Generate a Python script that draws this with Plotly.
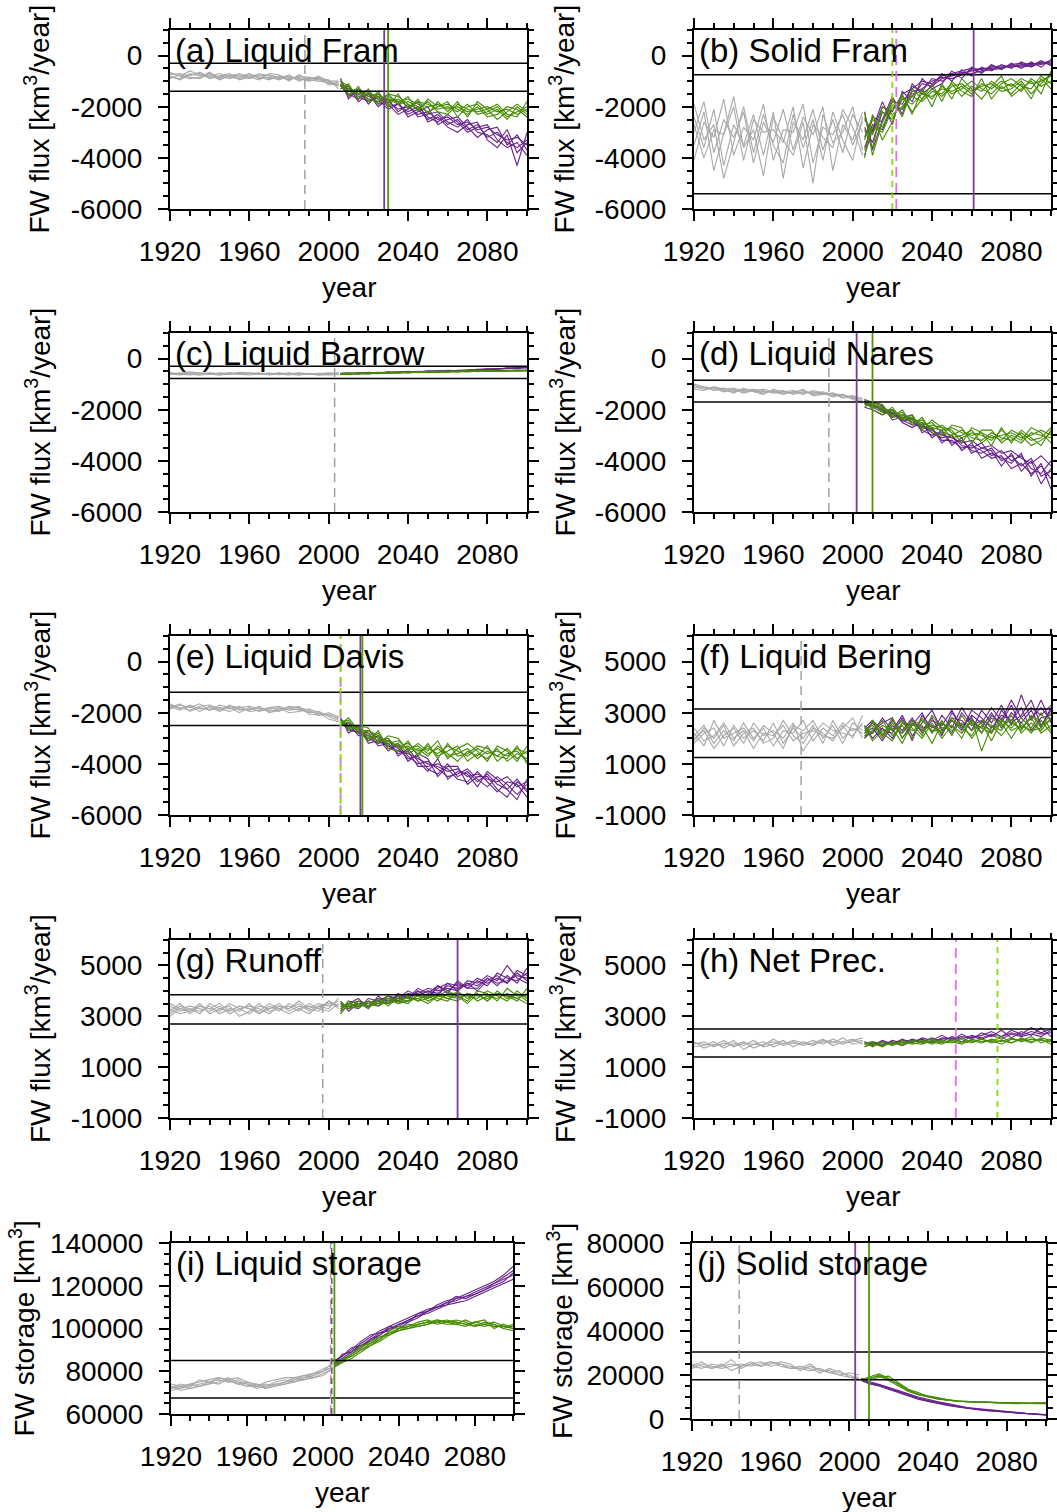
import plotly.graph_objects as go

W, H = 1057, 1512

# ---------------- data ----------------
HIST_YEARS = [1920, 1925, 1930, 1935, 1940, 1945, 1950, 1955, 1960, 1965,
              1970, 1975, 1980, 1985, 1990, 1995, 2000, 2005]
SCEN_YEARS = [2006, 2010, 2015, 2020, 2025, 2030, 2035, 2040, 2045, 2050,
              2055, 2060, 2065, 2070, 2075, 2080, 2085, 2090, 2095, 2100]

YEAR_TICKS = [1920, 1960, 2000, 2040, 2080]
FLUX_TICKS_NEG = [-6000, -4000, -2000, 0]
FLUX_TICKS_POS = [-1000, 1000, 3000, 5000]
LIQ_STORE_TICKS = [60000, 80000, 100000, 120000, 140000]
SOL_STORE_TICKS = [0, 20000, 40000, 60000, 80000]

# (a) Liquid Fram
A_HIST = [
    [-750, -700, -800, -650, -850, -800, -900, -750, -800, -850, -950, -800, -900, -850, -950, -1000, -1050, -1150],
    [-850, -900, -700, -800, -750, -950, -800, -850, -700, -900, -850, -950, -800, -900, -1000, -900, -1100, -1050],
    [-700, -800, -600, -750, -800, -700, -850, -900, -750, -800, -750, -850, -950, -800, -850, -950, -1000, -1200],
    [-900, -750, -850, -900, -700, -850, -750, -800, -900, -750, -900, -800, -850, -950, -900, -850, -1150, -1100],
    [-800, -950, -750, -700, -900, -800, -700, -950, -850, -700, -800, -900, -750, -1000, -850, -900, -950, -1300],
    [-650, -800, -900, -850, -650, -900, -800, -700, -850, -950, -700, -750, -1000, -750, -950, -800, -1000, -1000],
]
A_RCP85 = [
    [-1100, -1500, -1700, -1450, -1900, -1800, -2100, -2000, -2300, -2200, -2500, -2400, -2700, -2600, -2900, -2800, -3100, -3300, -3200, -3500],
    [-1200, -1300, -1600, -1800, -1600, -2000, -1900, -2300, -2100, -2500, -2300, -2700, -2500, -2900, -2700, -3200, -3000, -3400, -3600, -3300],
    [-1000, -1400, -1500, -1700, -1800, -1700, -2200, -1900, -2400, -2300, -2200, -2600, -2800, -2500, -3000, -3100, -3400, -2900, -3800, -3400],
    [-1150, -1600, -1400, -1600, -1700, -2100, -1900, -2200, -2000, -2400, -2600, -2300, -2600, -3000, -2800, -2700, -3300, -3600, -3400, -3900],
    [-1300, -1200, -1800, -1500, -2000, -1700, -1800, -2400, -2200, -2000, -2700, -2500, -2400, -2800, -3200, -2900, -2800, -3500, -3100, -3700],
    [-900, -1700, -1300, -1900, -1500, -1900, -2300, -2100, -1800, -2600, -2400, -2800, -3000, -2700, -2600, -3300, -3600, -3100, -4300, -3000],
]
A_RCP45 = [
    [-1100, -1300, -1500, -1400, -1700, -1600, -1800, -1700, -1900, -2000, -1900, -2100, -2000, -2200, -2100, -2000, -2200, -2100, -2300, -2100],
    [-1200, -1400, -1300, -1600, -1500, -1800, -1700, -2000, -1800, -1900, -2100, -2000, -2200, -1900, -2300, -2200, -2000, -2400, -2200, -2000],
    [-1000, -1200, -1600, -1500, -1600, -1700, -1900, -1800, -2000, -2200, -2000, -1900, -2100, -2300, -2000, -2400, -2300, -2000, -2100, -2400],
    [-1150, -1500, -1400, -1700, -1800, -1500, -1600, -1900, -2100, -1800, -2200, -2300, -1900, -2100, -2200, -2100, -2500, -2200, -1900, -2200],
    [-1300, -1100, -1700, -1300, -1900, -1500, -1900, -1600, -2200, -1700, -2000, -1800, -2400, -2000, -1900, -2300, -2100, -2500, -2000, -2300],
    [-900, -1600, -1200, -1800, -1400, -2000, -1500, -2100, -1700, -2300, -1800, -2200, -1800, -2400, -1800, -2100, -1900, -2300, -2400, -1800],
]

# (b) Solid Fram
B_HIST = [
    [-3000, -1800, -3800, -2500, -3200, -2200, -4200, -2600, -3400, -2100, -3700, -2400, -3100, -2000, -4500, -2700, -3300, -2200],
    [-2400, -3600, -2100, -4300, -2700, -3500, -2300, -3900, -2200, -4800, -2600, -3300, -2100, -3700, -2500, -3800, -2300, -3000],
    [-4100, -2600, -3200, -1700, -3900, -2800, -3300, -1900, -4100, -2900, -3000, -1900, -4200, -2800, -3100, -2300, -3500, -2600],
    [-2700, -4000, -2900, -3100, -2000, -4100, -2500, -3000, -2900, -3400, -2000, -4400, -2700, -3200, -3600, -2100, -2800, -3900],
    [-3500, -2200, -4500, -3000, -1600, -3600, -2900, -4700, -2400, -3300, -3900, -2600, -5000, -2300, -3400, -3000, -2000, -3700],
    [-1900, -3300, -2700, -4800, -3400, -2000, -3800, -2300, -3500, -4200, -2300, -3600, -2500, -4100, -2200, -3300, -4100, -2400],
]
B_RCP85 = [
    [-2500, -3000, -2000, -2200, -1500, -1300, -1000, -1100, -800, -700, -600, -500, -550, -450, -400, -450, -350, -300, -350, -250],
    [-3200, -2400, -2600, -1800, -1900, -1200, -1400, -900, -1000, -750, -700, -600, -500, -500, -450, -400, -400, -350, -300, -300],
    [-2800, -3400, -2200, -2500, -1700, -1600, -1100, -1200, -900, -800, -650, -700, -600, -550, -500, -400, -450, -400, -300, -200],
    [-3600, -2700, -2900, -2000, -2100, -1400, -1300, -1000, -850, -900, -750, -550, -650, -400, -500, -350, -300, -450, -250, -350],
    [-2200, -3700, -2500, -1600, -2300, -1100, -1500, -1200, -700, -1000, -550, -800, -450, -600, -350, -500, -250, -400, -200, -400],
    [-3900, -2900, -1800, -2700, -1400, -1800, -900, -1300, -1100, -600, -900, -450, -700, -350, -550, -300, -500, -250, -450, -150],
]
B_RCP45 = [
    [-2400, -3100, -2200, -2500, -1700, -1900, -1500, -1600, -1300, -1400, -1200, -1500, -1100, -1300, -1000, -1200, -900, -1100, -1000, -800],
    [-3300, -2500, -2800, -1900, -2100, -1600, -1800, -1400, -1500, -1100, -1600, -1200, -1400, -1000, -1300, -1100, -1400, -900, -1200, -1000],
    [-2900, -3600, -2000, -2300, -2000, -1500, -1400, -1700, -1200, -1500, -1300, -1000, -1300, -1500, -1100, -900, -1200, -1300, -800, -1100],
    [-3700, -2800, -3000, -2100, -1600, -2200, -1700, -1300, -1600, -1200, -1100, -1400, -1200, -1100, -1400, -1300, -1000, -1500, -1100, -700],
    [-2200, -3900, -2600, -1700, -2400, -1300, -1700, -1100, -1800, -1000, -1400, -1600, -900, -1700, -1200, -1500, -1100, -1700, -900, -1300],
    [-4000, -2300, -3300, -2600, -1500, -2300, -1300, -2000, -1100, -1700, -900, -1300, -1700, -1200, -800, -1600, -1300, -1000, -1500, -600],
]

# (c) Liquid Barrow
C_HIST = [
    [-550, -600, -520, -580, -620, -560, -600, -540, -590, -620, -570, -600, -640, -580, -620, -600, -560, -600],
    [-620, -560, -600, -650, -570, -610, -550, -620, -580, -560, -640, -590, -560, -620, -590, -650, -610, -580],
    [-600, -640, -580, -560, -600, -650, -580, -600, -640, -590, -610, -560, -600, -650, -580, -620, -640, -620],
    [-580, -620, -640, -600, -560, -600, -620, -580, -560, -600, -580, -630, -590, -560, -610, -580, -600, -560],
]
C_RCP85 = [
    [-600, -620, -560, -580, -540, -560, -520, -550, -500, -520, -480, -500, -460, -470, -430, -440, -400, -380, -360, -340],
    [-580, -560, -600, -540, -570, -520, -540, -500, -530, -480, -500, -460, -480, -440, -420, -400, -420, -360, -380, -330],
    [-620, -590, -580, -600, -550, -580, -530, -520, -540, -510, -490, -520, -470, -450, -460, -410, -390, -400, -350, -370],
    [-610, -580, -570, -560, -580, -540, -560, -530, -510, -500, -510, -470, -490, -460, -440, -420, -430, -380, -400, -350],
]
C_RCP45 = [
    [-600, -610, -580, -590, -560, -570, -540, -560, -530, -540, -510, -530, -500, -520, -490, -500, -480, -490, -470, -480],
    [-590, -570, -600, -560, -580, -550, -570, -520, -550, -510, -540, -500, -520, -480, -510, -470, -500, -460, -490, -450],
    [-620, -600, -560, -580, -550, -560, -530, -550, -520, -530, -500, -510, -490, -500, -470, -490, -460, -470, -450, -460],
    [-580, -600, -570, -570, -590, -540, -550, -540, -510, -550, -520, -490, -510, -470, -500, -480, -470, -500, -460, -470],
]

# (d) Liquid Nares
D_HIST = [
    [-1050, -1150, -1200, -1150, -1250, -1200, -1300, -1250, -1350, -1300, -1250, -1350, -1300, -1400, -1350, -1450, -1500, -1550],
    [-1150, -1100, -1250, -1200, -1150, -1300, -1250, -1350, -1250, -1350, -1300, -1250, -1400, -1350, -1450, -1400, -1550, -1650],
    [-1100, -1200, -1150, -1250, -1300, -1250, -1200, -1300, -1300, -1250, -1400, -1300, -1350, -1300, -1400, -1500, -1450, -1600],
    [-1000, -1100, -1150, -1300, -1200, -1350, -1250, -1200, -1300, -1400, -1300, -1400, -1250, -1350, -1500, -1400, -1600, -1700],
    [-1200, -1250, -1100, -1200, -1350, -1150, -1300, -1400, -1200, -1300, -1350, -1200, -1450, -1400, -1350, -1550, -1500, -1750],
]
D_RCP85 = [
    [-1700, -1800, -2000, -2200, -2300, -2500, -2700, -2800, -3000, -3100, -3300, -3200, -3500, -3400, -3700, -3600, -3900, -4100, -3800, -4200],
    [-1650, -1900, -2100, -2100, -2400, -2600, -2600, -2900, -3100, -3000, -3400, -3500, -3300, -3800, -3600, -4000, -3800, -4300, -4500, -4000],
    [-1750, -1850, -1900, -2300, -2200, -2400, -2800, -3000, -2900, -3300, -3200, -3600, -3700, -3500, -4000, -3800, -4200, -3900, -4600, -4400],
    [-1800, -1750, -2050, -2150, -2450, -2350, -2650, -2750, -3200, -3200, -3500, -3400, -3600, -3900, -3800, -4300, -4100, -4500, -4200, -4700],
    [-1900, -2000, -2200, -2000, -2500, -2700, -2500, -3100, -2800, -3400, -3100, -3700, -3500, -3600, -4200, -3700, -4400, -4000, -4900, -4300],
    [-1600, -1700, -1850, -2400, -2300, -2200, -2900, -2700, -3300, -3000, -3600, -3300, -3900, -3700, -3900, -4100, -3700, -4600, -4100, -5100],
]
D_RCP45 = [
    [-1700, -1800, -1900, -2100, -2200, -2400, -2500, -2700, -2800, -2700, -2900, -3000, -2900, -3100, -3000, -2900, -3100, -3000, -2800, -3000],
    [-1650, -1850, -2000, -2000, -2300, -2300, -2600, -2500, -2900, -3000, -2800, -3100, -3200, -2900, -3100, -3200, -2900, -3200, -3100, -2700],
    [-1750, -1750, -2100, -2200, -2100, -2500, -2400, -2800, -2600, -2900, -3100, -2900, -3000, -3200, -2800, -3100, -3300, -2900, -3000, -3100],
    [-1800, -1900, -1950, -2250, -2350, -2300, -2700, -2600, -2700, -3100, -3000, -2800, -3300, -3000, -3200, -2800, -3000, -3400, -3200, -2900],
    [-1600, -2000, -2200, -1900, -2400, -2200, -2800, -2400, -2700, -2800, -3300, -2700, -2900, -3400, -2700, -3300, -2800, -3100, -3400, -2800],
    [-1900, -1700, -1800, -2300, -2000, -2600, -2300, -2900, -3000, -2600, -2700, -3300, -2800, -2800, -3300, -3000, -3200, -2700, -2900, -3300],
]

# (e) Liquid Davis
E_HIST = [
    [-1750, -1900, -1700, -1850, -1800, -1950, -1750, -1900, -1850, -1800, -1950, -1850, -1800, -1900, -1950, -2050, -2100, -2200],
    [-1850, -1700, -1800, -1650, -1900, -1800, -1850, -1750, -1950, -1900, -1800, -1750, -1900, -1850, -2000, -1950, -2150, -2300],
    [-1700, -1800, -1900, -1750, -1700, -1850, -1950, -1800, -1750, -1850, -1900, -1950, -1750, -1800, -1900, -2100, -2050, -2250],
    [-1800, -1650, -1950, -1800, -1900, -1700, -1800, -2000, -1800, -1950, -1850, -1800, -2000, -1950, -1850, -2000, -2250, -2350],
    [-1650, -1850, -1750, -1950, -1750, -1900, -1700, -1850, -1900, -1750, -2000, -1900, -1850, -1750, -2050, -2100, -2000, -2150],
]
E_RCP85 = [
    [-2300, -2500, -2700, -2900, -3100, -3300, -3500, -3600, -3800, -4000, -4100, -4300, -4200, -4500, -4400, -4600, -4700, -4500, -4900, -4700],
    [-2400, -2600, -2800, -3000, -3200, -3100, -3400, -3800, -3700, -4200, -4400, -4000, -4500, -4300, -4700, -4400, -4800, -5000, -4600, -5100],
    [-2350, -2550, -2600, -3100, -2900, -3400, -3300, -3700, -4000, -3900, -4200, -4500, -4400, -4200, -4600, -4900, -4500, -4800, -5200, -4800],
    [-2250, -2700, -2750, -2800, -3300, -3200, -3600, -3500, -4100, -4100, -4000, -4200, -4600, -4700, -4300, -4700, -5100, -4700, -4800, -5300],
    [-2450, -2400, -2900, -2700, -3000, -3500, -3200, -3900, -3600, -3800, -4500, -4100, -4100, -4800, -4500, -4500, -5000, -5300, -4700, -5000],
    [-2200, -2800, -2500, -3200, -3100, -3000, -3700, -3400, -3900, -4300, -3800, -4600, -4300, -4400, -4900, -4300, -4600, -5000, -5400, -4600],
]
E_RCP45 = [
    [-2300, -2400, -2600, -2800, -3000, -3100, -3300, -3200, -3500, -3400, -3600, -3300, -3500, -3700, -3400, -3600, -3500, -3700, -3400, -3600],
    [-2400, -2500, -2700, -2700, -2900, -3200, -3100, -3400, -3300, -3600, -3400, -3700, -3600, -3400, -3800, -3500, -3700, -3400, -3800, -3500],
    [-2350, -2300, -2800, -2900, -3100, -3000, -3400, -3300, -3600, -3300, -3700, -3500, -3300, -3900, -3600, -3800, -3400, -3900, -3600, -3800],
    [-2250, -2600, -2550, -3000, -2800, -3300, -3200, -3600, -3400, -3700, -3300, -3600, -3900, -3500, -3700, -3300, -3900, -3600, -3500, -3900],
    [-2200, -2700, -2500, -2600, -3200, -2900, -3000, -3500, -3200, -3500, -3100, -3800, -3400, -3200, -3500, -3900, -3300, -3500, -3900, -3300],
    [-2450, -2200, -2700, -3100, -2700, -3400, -3500, -3100, -3700, -3200, -3800, -3200, -3700, -3600, -3300, -3400, -3700, -3800, -3300, -4000],
]

# (f) Liquid Bering
F_HIST = [
    [2100, 2500, 1800, 2300, 1900, 2600, 2000, 2400, 1700, 2300, 2200, 2700, 1900, 2400, 2100, 2600, 2300, 2500],
    [1800, 2200, 2400, 1700, 2500, 2000, 2300, 1900, 2600, 1800, 2400, 2000, 2500, 1800, 2700, 2000, 2400, 2200],
    [2400, 1900, 2100, 2600, 2000, 2300, 1600, 2200, 2100, 2500, 1900, 2200, 2300, 2100, 2000, 2400, 2800, 2000],
    [2000, 2300, 1600, 2100, 2400, 1800, 2600, 2100, 2300, 2000, 2600, 1500, 2100, 2600, 2300, 2200, 2100, 2600],
    [2200, 1700, 2700, 2000, 2200, 2400, 1900, 2500, 2200, 1600, 2500, 2300, 2700, 2000, 2500, 1800, 2600, 2300],
    [1900, 2400, 2000, 2500, 1700, 2200, 2400, 1800, 2000, 2700, 2100, 1800, 2400, 2200, 1900, 2500, 2000, 2900],
]
F_RCP85 = [
    [2300, 2600, 2100, 2700, 2300, 2800, 2200, 2700, 2500, 3100, 2400, 2900, 2600, 3200, 2700, 3500, 2800, 3200, 2900, 3300],
    [2100, 2200, 2800, 2300, 2900, 2100, 2600, 3100, 2300, 2800, 2700, 2300, 3100, 2600, 3300, 2500, 3700, 2700, 3500, 2600],
    [2500, 2000, 2400, 2000, 2600, 2500, 3000, 2200, 2900, 2400, 3200, 2600, 2400, 3000, 2400, 3000, 2600, 3100, 2400, 3200],
    [2200, 2400, 1900, 2500, 2200, 2700, 2400, 2500, 2200, 2700, 2300, 3100, 2800, 2400, 2900, 2700, 3200, 2300, 2800, 2900],
    [2400, 2700, 2300, 2200, 2800, 1900, 2900, 2400, 2600, 2200, 3000, 2500, 2700, 2200, 3100, 2600, 2900, 3500, 2500, 3100],
    [2000, 2300, 2600, 2800, 2000, 2600, 2300, 2800, 2100, 3000, 2500, 2800, 2200, 2900, 2600, 3300, 2400, 2800, 3200, 2700],
]
F_RCP45 = [
    [2300, 2500, 2000, 2600, 2200, 2700, 2300, 2500, 2200, 2800, 2400, 2600, 2200, 2800, 2500, 2700, 2300, 2900, 2500, 2700],
    [2100, 2300, 2700, 2100, 2500, 2000, 2800, 2200, 2700, 2100, 2900, 2300, 2600, 1900, 2700, 2400, 2800, 2400, 3000, 2300],
    [2500, 1900, 2300, 2400, 1800, 2600, 2100, 2900, 2400, 2500, 2000, 2800, 1500, 2500, 2300, 2900, 2200, 2600, 2300, 2800],
    [2200, 2600, 2200, 1900, 2600, 2300, 2500, 1800, 2600, 2300, 2600, 2000, 2500, 2300, 2600, 2000, 2600, 2200, 2700, 2200],
    [2400, 2200, 2500, 2300, 2700, 2400, 2000, 2600, 2000, 2500, 2200, 2700, 2400, 2200, 2800, 2300, 2500, 2300, 2400, 3000],
    [2000, 2700, 2100, 2800, 2000, 2500, 2700, 2300, 2300, 2700, 2400, 2100, 2700, 2500, 2100, 2600, 2400, 2800, 2200, 2500],
]

# (g) Runoff
G_HIST = [
    [3200, 3500, 3100, 3400, 3300, 3200, 3500, 3300, 3100, 3400, 3300, 3500, 3200, 3400, 3300, 3500, 3400, 3600],
    [3400, 3200, 3300, 3100, 3500, 3300, 3200, 3400, 3300, 3200, 3500, 3300, 3400, 3200, 3500, 3300, 3600, 3300],
    [3000, 3300, 3400, 3300, 3200, 3400, 3100, 3300, 3400, 3300, 3100, 3400, 3300, 3500, 3200, 3400, 3500, 3400],
    [3300, 3100, 3200, 3500, 3100, 3300, 3400, 3000, 3200, 3500, 3200, 3300, 3100, 3300, 3400, 3300, 3200, 3500],
    [3100, 3400, 3300, 3200, 3400, 3100, 3300, 3200, 3500, 3100, 3400, 3200, 3500, 3300, 3100, 3400, 3300, 3700],
    [3500, 3300, 3200, 3400, 3300, 3500, 3200, 3400, 3300, 3100, 3300, 3400, 3300, 3600, 3300, 3200, 3600, 3400],
]
G_RCP85 = [
    [3300, 3500, 3400, 3600, 3500, 3700, 3600, 3900, 3800, 4000, 3900, 4200, 4100, 4300, 4200, 4500, 4300, 4400, 4600, 4500],
    [3500, 3300, 3600, 3500, 3700, 3600, 3800, 3700, 4100, 3900, 4200, 4000, 4300, 4100, 4400, 4200, 4700, 4500, 4400, 4700],
    [3200, 3600, 3500, 3400, 3600, 3800, 3700, 3800, 3900, 4100, 4000, 4100, 4000, 4400, 4300, 4600, 4400, 5000, 4500, 4300],
    [3400, 3400, 3300, 3700, 3600, 3500, 3900, 3700, 4000, 3800, 4100, 4300, 4200, 4200, 4500, 4300, 4500, 4300, 4800, 4600],
    [3600, 3200, 3500, 3500, 3400, 3800, 3600, 3600, 4000, 3700, 4200, 3900, 4400, 4100, 4100, 4500, 4200, 4600, 4300, 4900],
    [3100, 3500, 3700, 3300, 3800, 3500, 3700, 4000, 3800, 4000, 3800, 4300, 4000, 4300, 4000, 4400, 4600, 4300, 4700, 4400],
]
G_RCP45 = [
    [3300, 3500, 3400, 3500, 3600, 3500, 3700, 3600, 3800, 3700, 3900, 3800, 3700, 3900, 3800, 3700, 3900, 3800, 3700, 3900],
    [3500, 3300, 3600, 3400, 3500, 3700, 3500, 3800, 3600, 3900, 3700, 3600, 4000, 3700, 3900, 3600, 4000, 3700, 3900, 3600],
    [3200, 3600, 3300, 3600, 3400, 3600, 3600, 3500, 3900, 3600, 3800, 4000, 3800, 3600, 4000, 3900, 3600, 4100, 3800, 3800],
    [3400, 3400, 3500, 3300, 3700, 3400, 3800, 3700, 3700, 3800, 3600, 3900, 3900, 3800, 3700, 4000, 3800, 3600, 4000, 3700],
    [3600, 3300, 3400, 3600, 3500, 3500, 3600, 3800, 3600, 3700, 3900, 3700, 3800, 3500, 3900, 3600, 3900, 3800, 3600, 4100],
    [3100, 3500, 3600, 3400, 3500, 3800, 3500, 3600, 3700, 3500, 3800, 3700, 3600, 3900, 3600, 3800, 3700, 3900, 3700, 3500],
]

# (h) Net Prec.
H_HIST = [
    [1900, 2000, 1800, 1950, 1850, 2000, 1750, 1900, 2000, 1850, 1950, 1900, 2050, 1900, 2100, 1950, 2000, 2050],
    [1800, 1850, 2000, 1750, 1950, 1850, 2050, 1800, 1900, 2050, 1800, 2000, 1900, 2000, 1950, 2150, 1900, 2000],
    [2000, 1750, 1900, 1850, 2050, 1700, 1900, 2000, 1800, 1950, 2000, 1850, 1950, 2100, 1850, 2000, 2100, 1900],
    [1950, 1900, 1850, 2050, 1800, 1950, 1900, 1850, 2100, 1900, 2050, 1950, 1850, 2050, 2000, 1900, 2050, 2150],
]
H_RCP85 = [
    [1900, 2000, 1850, 2050, 1950, 2100, 2000, 2150, 2000, 2200, 2100, 2250, 2150, 2300, 2200, 2350, 2250, 2400, 2300, 2350],
    [2000, 1850, 2050, 1900, 2100, 1950, 2150, 2050, 2250, 2050, 2300, 2100, 2350, 2200, 2450, 2150, 2400, 2250, 2550, 2200],
    [1800, 1950, 1900, 2000, 1850, 2050, 1950, 2000, 2100, 2150, 2000, 2200, 2100, 2250, 2100, 2300, 2200, 2300, 2200, 2450],
    [1950, 1900, 2000, 1950, 2050, 2000, 2100, 1950, 2150, 2100, 2200, 2150, 2250, 2400, 2200, 2450, 2300, 2550, 2350, 2500],
]
H_RCP45 = [
    [1900, 1950, 1800, 2000, 1900, 2050, 1950, 2000, 1900, 2100, 2000, 2050, 1950, 2100, 2000, 2150, 2000, 2100, 2050, 2000],
    [2000, 1800, 2000, 1850, 2050, 1900, 2000, 2100, 2000, 1950, 2150, 1950, 2100, 2000, 2200, 1950, 2150, 2000, 2100, 1900],
    [1800, 1900, 1850, 1950, 1850, 2000, 2050, 1900, 2050, 2000, 1900, 2100, 2000, 2050, 1900, 2100, 2050, 2200, 1950, 2100],
    [1950, 2000, 1950, 1900, 2000, 1950, 1900, 2050, 1950, 2050, 1950, 2000, 2100, 1950, 2050, 1950, 2100, 1950, 2150, 2050],
]

# (i) Liquid storage
I_HIST = [
    [72000, 73000, 74000, 75000, 76000, 77000, 76000, 74000, 73000, 73000, 75000, 76000, 77000, 77000, 78000, 79000, 81000, 83000],
    [73000, 72000, 73000, 74000, 75000, 76000, 75000, 75000, 74000, 72000, 73000, 74000, 75000, 76000, 77000, 78000, 80000, 82000],
    [71000, 72000, 74000, 73000, 74000, 75000, 77000, 75000, 73000, 74000, 72000, 73000, 74000, 75000, 76000, 77000, 79000, 81000],
    [74000, 73000, 72000, 73000, 75000, 76000, 75000, 76000, 74000, 73000, 74000, 73000, 75000, 77000, 76000, 78000, 80000, 84000],
    [72000, 74000, 73000, 76000, 75000, 74000, 76000, 77000, 75000, 74000, 73000, 75000, 76000, 75000, 77000, 79000, 80000, 82000],
    [73000, 71000, 72000, 73000, 74000, 77000, 76000, 74000, 75000, 73000, 72000, 74000, 74000, 76000, 78000, 77000, 78000, 81000],
]
I_RCP85 = [
    [83000, 86000, 89000, 93000, 96000, 99000, 101000, 103000, 105000, 107000, 109000, 110000, 112000, 113000, 115000, 116000, 118000, 120000, 122000, 126000],
    [82000, 85000, 88000, 91000, 95000, 97000, 100000, 102000, 104000, 106000, 108000, 111000, 113000, 114000, 116000, 118000, 120000, 122000, 125000, 129000],
    [84000, 87000, 90000, 94000, 97000, 98000, 100000, 101000, 104000, 106000, 107000, 109000, 111000, 112000, 113000, 115000, 117000, 119000, 121000, 123000],
    [85000, 87000, 91000, 92000, 95000, 98000, 99000, 102000, 103000, 105000, 108000, 110000, 111000, 114000, 115000, 117000, 119000, 121000, 124000, 127000],
    [83000, 88000, 89000, 92000, 94000, 97000, 101000, 100000, 103000, 107000, 108000, 110000, 112000, 115000, 114000, 116000, 118000, 121000, 123000, 125000],
]
I_RCP45 = [
    [83000, 85000, 87000, 90000, 93000, 96000, 98000, 100000, 101000, 102000, 103000, 103000, 104000, 103000, 102000, 103000, 102000, 101000, 101000, 100000],
    [82000, 84000, 86000, 89000, 92000, 95000, 98000, 99000, 101000, 103000, 104000, 102000, 103000, 104000, 103000, 101000, 102000, 103000, 101000, 101000],
    [84000, 85000, 88000, 91000, 94000, 96000, 97000, 99000, 100000, 101000, 102000, 103000, 102000, 102000, 104000, 102000, 101000, 102000, 100000, 99000],
    [83000, 86000, 87000, 90000, 92000, 94000, 97000, 100000, 102000, 101000, 102000, 104000, 103000, 102000, 101000, 103000, 104000, 100000, 102000, 100000],
    [84000, 84000, 88000, 92000, 93000, 95000, 99000, 101000, 100000, 102000, 103000, 104000, 103000, 103000, 102000, 101000, 103000, 102000, 100000, 102000],
]

# (j) Solid storage
J_HIST = [
    [24000, 23000, 25000, 24000, 27000, 23000, 25000, 26000, 24000, 25000, 24000, 23000, 22000, 23000, 21000, 20000, 19000, 19000],
    [23000, 25000, 24000, 23000, 24000, 25000, 24000, 25000, 26000, 24000, 23000, 24000, 23000, 21000, 23000, 21000, 20000, 18000],
    [25000, 24000, 23000, 25000, 22000, 24000, 26000, 24000, 25000, 26000, 25000, 22000, 24000, 22000, 22000, 20000, 21000, 20000],
    [24000, 26000, 23000, 24000, 25000, 24000, 25000, 24000, 26000, 25000, 23000, 23000, 25000, 22000, 21000, 22000, 19000, 18000],
]
J_RCP85 = [
    [18000, 16500, 15500, 14000, 12500, 11000, 9500, 8500, 7500, 6500, 5800, 5000, 4500, 4000, 3500, 3200, 2800, 2500, 2200, 1900],
    [17500, 16000, 15000, 13500, 12000, 10500, 9000, 8000, 7000, 6200, 5500, 4800, 4200, 3800, 3400, 3000, 2700, 2400, 2100, 1800],
    [18500, 17000, 15800, 14500, 13000, 11500, 10000, 9000, 7800, 7000, 6000, 5200, 4700, 4200, 3700, 3300, 3000, 2600, 2300, 2000],
    [17800, 16200, 15300, 13800, 12300, 10800, 9300, 8300, 7200, 6400, 5600, 4900, 4400, 3900, 3500, 3100, 2800, 2400, 2100, 1800],
]
J_RCP45 = [
    [18000, 18500, 19500, 17500, 15000, 12500, 11000, 10000, 9000, 8500, 8000, 8000, 7500, 7500, 7200, 7200, 7000, 7200, 7000, 7000],
    [17500, 18000, 20000, 18000, 16000, 13000, 11500, 10500, 9500, 8800, 8300, 7800, 7600, 7800, 7300, 7500, 7300, 7000, 7400, 7200],
    [18500, 17500, 19000, 19500, 16500, 13500, 12000, 10200, 9200, 8500, 8100, 7900, 7800, 7400, 7600, 7100, 7400, 7300, 7100, 7500],
    [17800, 19000, 20500, 18500, 15500, 13200, 11200, 10300, 9400, 8600, 8200, 7700, 7700, 7500, 7500, 7300, 7200, 7100, 7300, 7300],
]

# variability bounds (horizontal lines) and emergence years (vertical lines)
BOUNDS = {
    'a': [-300, -1400], 'b': [-750, -5400], 'c': [-300, -780], 'd': [-850, -1700],
    'e': [-1200, -2500], 'f': [3150, 1250], 'g': [3850, 2700], 'h': [2500, 1400],
    'i': [85000, 67500], 'j': [30500, 17800],
}
EMERGENCE = {
    'a': [(1988, 'hist'), (2028, 'r85'), (2030, 'r45')],
    'b': [(2020, 'r45d'), (2022, 'r85d'), (2061, 'r85')],
    'c': [(2003, 'hist')],
    'd': [(1988, 'hist'), (2002, 'r85'), (2010, 'r45')],
    'e': [(2006, 'r85d'), (2006, 'r45d'), (2016, 'r85'), (2017, 'r45')],
    'f': [(1974, 'hist')],
    'g': [(1997, 'hist'), (2065, 'r85')],
    'h': [(2052, 'r85d'), (2073, 'r45d')],
    'i': [(2004, 'hist'), (2004.6, 'r85d2'), (2006, 'r45')],
    'j': [(1944, 'hist'), (2003, 'r85'), (2010, 'r45')],
}

# ---------------- styling ----------------
FONT = 'Liberation Sans, Arial, Helvetica, sans-serif'
GREY = '#A8A8A8'
PURPLE = '#68228B'
GREEN = '#458B00'
VSTYLE = {
    'hist': dict(color='#A0A0A0', width=1.5, dash='9px,6px'),
    'r85': dict(color='#7A3A9A', width=1.8, dash='solid'),
    'r45': dict(color='#4E9A06', width=1.8, dash='solid'),
    'r85d': dict(color='#E36EF5', width=1.8, dash='10px,6px'),
    'r85d2': dict(color='#8B3FAF', width=1.5, dash='6px,4px'),
    'r45d': dict(color='#7FE000', width=1.8, dash='6px,5px'),
}

FLUX_TITLE = 'FW flux [km<sup>3</sup>/year]'
STORE_TITLE = 'FW storage [km<sup>3</sup>]'

PANELS = [
    ('a', '(a) Liquid Fram', A_HIST, A_RCP85, A_RCP45, [-6000, 1000], FLUX_TICKS_NEG, 500, (170, 527), (30, 209), FLUX_TITLE, 38),
    ('b', '(b) Solid Fram', B_HIST, B_RCP85, B_RCP45, [-6000, 1000], FLUX_TICKS_NEG, 500, (694, 1051), (30, 209), FLUX_TITLE, 563),
    ('c', '(c) Liquid Barrow', C_HIST, C_RCP85, C_RCP45, [-6000, 1000], FLUX_TICKS_NEG, 500, (170, 527), (333, 512), FLUX_TITLE, 38),
    ('d', '(d) Liquid Nares', D_HIST, D_RCP85, D_RCP45, [-6000, 1000], FLUX_TICKS_NEG, 500, (694, 1051), (333, 512), FLUX_TITLE, 563),
    ('e', '(e) Liquid Davis', E_HIST, E_RCP85, E_RCP45, [-6000, 1000], FLUX_TICKS_NEG, 500, (170, 527), (636, 815), FLUX_TITLE, 38),
    ('f', '(f) Liquid Bering', F_HIST, F_RCP85, F_RCP45, [-1000, 6000], FLUX_TICKS_POS, 500, (694, 1051), (636, 815), FLUX_TITLE, 563),
    ('g', '(g) Runoff', G_HIST, G_RCP85, G_RCP45, [-1000, 6000], FLUX_TICKS_POS, 500, (170, 527), (940, 1118), FLUX_TITLE, 38),
    ('h', '(h) Net Prec.', H_HIST, H_RCP85, H_RCP45, [-1000, 6000], FLUX_TICKS_POS, 500, (694, 1051), (940, 1118), FLUX_TITLE, 563),
    ('i', '(i) Liquid storage', I_HIST, I_RCP85, I_RCP45, [60000, 140000], LIQ_STORE_TICKS, 5000, (171, 513), (1243, 1414), STORE_TITLE, 22),
    ('j', '(j) Solid storage', J_HIST, J_RCP85, J_RCP45, [0, 80000], SOL_STORE_TICKS, 5000, (692, 1046), (1243, 1419), STORE_TITLE, 560),
]

fig = go.Figure()
layout = dict(
    width=W, height=H, margin=dict(l=0, r=0, t=0, b=0, autoexpand=False),
    paper_bgcolor='white', plot_bgcolor='white', showlegend=False,
    font=dict(family=FONT, color='black'),
)
shapes = []
annotations = []

for k, (key, title, hist, r85, r45, yr, yticks, mdy, xpx, ypx, ytitle, ytx) in enumerate(PANELS, start=1):
    xa = 'x' if k == 1 else f'x{k}'
    ya = 'y' if k == 1 else f'y{k}'
    xname = 'xaxis' if k == 1 else f'xaxis{k}'
    yname = 'yaxis' if k == 1 else f'yaxis{k}'
    xdom = [xpx[0] / W, xpx[1] / W]
    ydom = [1 - ypx[1] / H, 1 - ypx[0] / H]

    for series, years, color in ((hist, HIST_YEARS, GREY), (r85, SCEN_YEARS, PURPLE), (r45, SCEN_YEARS, GREEN)):
        for member in series:
            fig.add_trace(go.Scatter(x=years, y=member, mode='lines', xaxis=xa, yaxis=ya,
                                     line=dict(color=color, width=1.1), hoverinfo='skip'))

    common = dict(showline=True, linewidth=2, linecolor='black', mirror='allticks',
                  ticks='outside', ticklen=10, tickwidth=2, tickcolor='black',
                  showgrid=False, zeroline=False, fixedrange=True, automargin=False,
                  tickfont=dict(size=28, family=FONT, color='black'))
    layout[xname] = dict(common, domain=xdom, anchor=ya, range=[1920, 2100],
                         tickmode='array', tickvals=YEAR_TICKS, ticktext=[str(v) for v in YEAR_TICKS],
                         ticklabelstandoff=6,
                         minor=dict(ticks='outside', ticklen=5, tickwidth=1.5, tickcolor='black',
                                    tickmode='linear', tick0=1920, dtick=10, showgrid=False))
    layout[yname] = dict(common, domain=ydom, anchor=xa, range=yr,
                         tickmode='array', tickvals=yticks, ticktext=[str(v) for v in yticks],
                         ticklabelstandoff=10,
                         minor=dict(ticks='outside', ticklen=5, tickwidth=1.5, tickcolor='black',
                                    tickmode='linear', tick0=yticks[0], dtick=mdy, showgrid=False))

    for yv in BOUNDS[key]:
        shapes.append(dict(type='line', xref=f'{xa} domain', yref=ya, x0=0, x1=1, y0=yv, y1=yv,
                           line=dict(color='black', width=1.5), layer='above'))
    for yrv, kind in EMERGENCE[key]:
        shapes.append(dict(type='line', xref=xa, yref=f'{ya} domain', x0=yrv, x1=yrv, y0=0, y1=1,
                           line=VSTYLE[kind], layer='above'))

    annotations.append(dict(text=title, xref='paper', yref='paper', x=(xpx[0] + 3) / W,
                            y=1 - (ypx[0] + 0) / H, xanchor='left', yanchor='top', showarrow=False,
                            font=dict(size=33, family=FONT, color='black')))
    annotations.append(dict(text=ytitle, xref='paper', yref='paper', x=ytx / W,
                            y=1 - ((ypx[0] + ypx[1]) / 2) / H, xanchor='center', yanchor='middle',
                            textangle=-90, showarrow=False,
                            font=dict(size=28, family=FONT, color='black')))
    annotations.append(dict(text='year', xref='paper', yref='paper', x=((xpx[0] + xpx[1]) / 2) / W,
                            y=1 - (ypx[1] + 78) / H, xanchor='center', yanchor='middle', showarrow=False,
                            font=dict(size=28, family=FONT, color='black')))

layout['shapes'] = shapes
layout['annotations'] = annotations
fig.update_layout(**layout)
fig.write_html('out.html')
